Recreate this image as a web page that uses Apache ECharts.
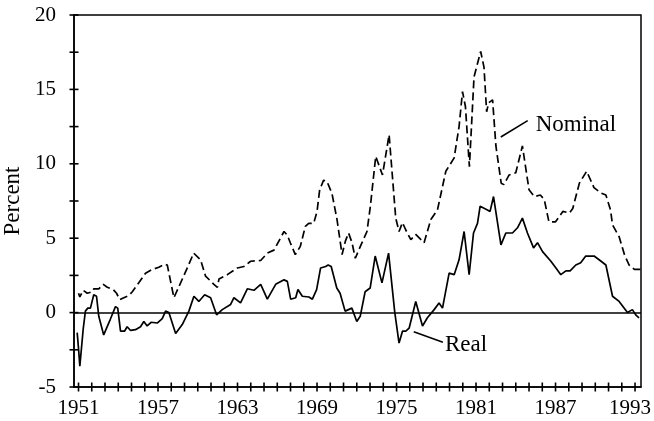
<!DOCTYPE html>
<html>
<head>
<meta charset="utf-8">
<script src="https://cdn.jsdelivr.net/npm/echarts@6/dist/echarts.min.js"></script>
<style>
  html, body { margin: 0; padding: 0; background: #fff; }
  #main { width: 654px; height: 421px; }
</style>
</head>
<body>
<div id="main"></div>
<script>
// interest rates as [year, percent]
const nominalRate = [
  [1951.0, 1.3], [1951.1, 1.05], [1951.2, 1.0], [1951.35, 1.5], [1951.66, 1.3], [1952.03, 1.4],
  [1952.16, 1.6], [1952.53, 1.6], [1952.87, 1.9], [1953.17, 1.7], [1953.62, 1.55], [1953.87, 1.3],
  [1954.12, 0.87], [1954.42, 1.0], [1954.8, 1.15], [1955.06, 1.4], [1955.55, 2.0], [1956.06, 2.65],
  [1956.57, 2.9], [1957.06, 3.05], [1957.5, 3.25], [1957.7, 3.2], [1958.2, 1.0], [1958.58, 1.75],
  [1959.21, 3.0], [1959.69, 4.0], [1960.21, 3.55], [1960.59, 2.45], [1961.22, 1.9], [1961.48, 1.7],
  [1961.6, 2.25], [1962.23, 2.55], [1962.99, 3.0], [1963.48, 3.1], [1963.99, 3.45], [1964.75, 3.5],
  [1965.25, 4.0], [1965.75, 4.2], [1966.51, 5.45], [1966.76, 5.2], [1966.99, 4.68], [1967.36, 3.9],
  [1967.74, 4.45], [1968.12, 5.8], [1968.37, 6.0], [1968.75, 6.0], [1969.0, 6.8], [1969.2, 8.25],
  [1969.5, 8.9], [1969.76, 8.8], [1970.13, 8.0], [1970.51, 6.25], [1970.89, 3.9], [1971.14, 4.8],
  [1971.38, 5.35], [1971.64, 4.7], [1971.89, 3.65], [1972.27, 4.45], [1972.77, 5.45], [1973.02, 7.1],
  [1973.43, 10.5], [1973.94, 9.25], [1974.44, 11.95], [1974.94, 6.35], [1975.19, 5.45],
  [1975.45, 6.05], [1975.7, 5.55], [1976.08, 4.9], [1976.45, 5.25], [1977.08, 4.7], [1977.59, 6.25],
  [1978.09, 6.9], [1978.72, 9.5], [1979.35, 10.4], [1979.72, 12.5], [1979.98, 14.85], [1980.2, 13.85],
  [1980.5, 9.8], [1980.85, 15.85], [1981.35, 17.55], [1981.6, 16.5], [1981.8, 13.5], [1981.95, 14.1],
  [1982.25, 14.3], [1982.5, 11.2], [1982.9, 8.7], [1983.1, 8.6], [1983.5, 9.25], [1984.0, 9.4],
  [1984.5, 11.2], [1985.0, 8.25], [1985.4, 7.8], [1985.85, 7.9], [1986.15, 7.6], [1986.5, 6.1],
  [1987.0, 6.1], [1987.55, 6.8], [1988.05, 6.7], [1988.3, 7.0], [1988.8, 8.7], [1989.35, 9.5],
  [1989.9, 8.4], [1990.4, 8.05], [1990.8, 7.9], [1991.15, 6.9], [1991.3, 5.9], [1991.8, 5.1],
  [1992.2, 3.9], [1992.55, 3.2], [1992.95, 2.9], [1993.45, 2.9]
];

const realRate = [
  [1950.9, -1.35], [1951.0, -2.4], [1951.1, -3.6], [1951.35, -1.15], [1951.52, 0.1], [1951.7, 0.3],
  [1951.9, 0.3], [1952.15, 1.2], [1952.36, 1.1], [1952.53, -0.25], [1952.9, -1.5], [1953.4, -0.45],
  [1953.79, 0.4], [1953.96, 0.3], [1954.17, -1.25], [1954.47, -1.25], [1954.67, -0.95], [1954.93, -1.2],
  [1955.3, -1.15], [1955.68, -0.95], [1955.93, -0.6], [1956.18, -0.9], [1956.48, -0.65], [1956.94, -0.7],
  [1957.32, -0.4], [1957.57, 0.1], [1957.82, 0], [1958.33, -1.4], [1958.83, -0.8], [1959.33, 0.1],
  [1959.71, 1.1], [1960.08, 0.75], [1960.52, 1.2], [1960.97, 1.0], [1961.42, -0.15], [1961.85, 0.2],
  [1962.48, 0.55], [1962.73, 1.0], [1963.23, 0.65], [1963.74, 1.6], [1964.24, 1.5], [1964.75, 1.9],
  [1965.25, 0.9], [1965.88, 1.9], [1966.51, 2.2], [1966.76, 2.1], [1967.01, 0.9], [1967.39, 1.0],
  [1967.56, 1.55], [1967.89, 1.1], [1968.39, 1.05], [1968.65, 0.9], [1968.97, 1.55], [1969.27, 3.0],
  [1969.65, 3.1], [1969.84, 3.2], [1970.07, 3.1], [1970.49, 1.65], [1970.74, 1.3], [1971.12, 0.1],
  [1971.63, 0.3], [1972.0, -0.6], [1972.26, -0.25], [1972.63, 1.4], [1973.01, 1.65], [1973.39, 3.8],
  [1973.9, 2.0], [1974.4, 4.0], [1974.87, 0], [1975.19, -2.05], [1975.45, -1.25], [1975.7, -1.25],
  [1975.95, -1.05], [1976.45, 0.75], [1976.96, -0.9], [1977.33, -0.35], [1977.84, 0.2], [1978.21, 0.65],
  [1978.47, 0.3], [1978.97, 2.65], [1979.35, 2.55], [1979.72, 3.55], [1980.1, 5.45], [1980.48, 2.55],
  [1980.81, 5.35], [1981.11, 6.0], [1981.31, 7.15], [1981.86, 6.9], [1982.06, 6.8], [1982.32, 7.8],
  [1982.88, 4.55], [1983.25, 5.35], [1983.75, 5.35], [1984.13, 5.7], [1984.5, 6.35], [1984.88, 5.35],
  [1985.34, 4.35], [1985.64, 4.7], [1986.02, 4.1], [1986.65, 3.45], [1987.03, 3.0], [1987.4, 2.55],
  [1987.78, 2.8], [1988.1, 2.8], [1988.53, 3.2], [1988.9, 3.35], [1989.28, 3.8], [1989.91, 3.8],
  [1990.29, 3.55], [1990.8, 3.2], [1991.3, 1.1], [1991.8, 0.75], [1992.43, 0], [1992.8, 0.2],
  [1993.05, -0.15], [1993.3, -0.35]
];

// ticks every year, labels every six years; y ticks every 2.5
const yearTicks = [];
for (let y = 1951; y <= 1993; y++) yearTicks.push(y);
const yearLabels = [1951, 1957, 1963, 1969, 1975, 1981, 1987, 1993];
const percentTicks = [-5, -2.5, 0, 2.5, 5, 7.5, 10, 12.5, 15, 17.5, 20];

// where the two callouts sit, in data units
const nominalNote = { text: 'Nominal', from: [1982.87, 11.8], to: [1984.9, 12.9], at: [1985.5, 12.6] };
const realNote = { text: 'Real', from: [1976.3, -1.28], to: [1978.5, -2.0], at: [1978.65, -2.2] };

const xMin = 1950.66, xMax = 1993.45;
const yMin = -5, yMax = 20;

const font = 'Liberation Serif';
const ink = '#000';

const chart = echarts.init(document.getElementById('main'), null, { renderer: 'canvas' });

// little "+" ticks that cross the axis lines, drawn as symbols on the axes
const tickSeries = (points, size) => ({
  type: 'scatter',
  data: points,
  symbol: 'rect',
  symbolSize: size,
  clip: false,
  silent: true,
  z: 5,
  itemStyle: { color: ink, opacity: 1 }
});

const option = {
  animation: false,
  backgroundColor: '#fff',
  grid: {
    left: 74, right: 13, top: 15, bottom: 34,
    outerBoundsMode: 'none',
    containLabel: false,
    show: true, borderColor: ink, borderWidth: 1.5, backgroundColor: 'transparent'
  },
  xAxis: {
    type: 'value', min: xMin, max: xMax,
    splitLine: { show: false },
    axisLine: { onZero: false, lineStyle: { color: ink, width: 1.5 } },
    axisTick: { show: false },
    axisLabel: {
      customValues: yearLabels, margin: 11,
      hideOverlap: false,
      formatter: (v) => v === 1993 ? '{last|' + v + '}' : String(v),
      rich: { last: { padding: [0, 10, 0, 0], fontFamily: font, fontSize: 21, color: ink } },
      fontFamily: font, fontSize: 21, color: ink
    }
  },
  yAxis: {
    type: 'value', min: yMin, max: yMax, interval: 5,
    splitLine: { show: false },
    name: 'Percent', nameLocation: 'middle', nameGap: 37, nameRotate: 90,
    nameTextStyle: { fontFamily: font, fontSize: 23, color: ink },
    axisLine: { onZero: false, lineStyle: { color: ink, width: 1.5 } },
    axisTick: { show: false },
    axisLabel: { margin: 18, fontFamily: font, fontSize: 21, color: ink }
  },
  series: [
    {
      name: 'Nominal',
      type: 'line',
      data: nominalRate,
      showSymbol: false,
      lineStyle: { color: ink, width: 1.7, type: [8, 4] },
      markPoint: {
        symbol: 'circle', symbolSize: 0, silent: true,
        label: { show: true, position: 'right', distance: 0, formatter: nominalNote.text, fontFamily: font, fontSize: 23, color: ink },
        data: [{ coord: nominalNote.at }]
      }
    },
    {
      name: 'Real',
      type: 'line',
      data: realRate,
      showSymbol: false,
      lineStyle: { color: ink, width: 1.7 },
      markLine: {
        symbol: 'none', silent: true, animation: false,
        label: { show: false },
        lineStyle: { color: ink, type: 'solid', width: 1.6 },
        data: [
          { yAxis: 0 },
          [{ coord: nominalNote.from }, { coord: nominalNote.to }],
          [{ coord: realNote.from }, { coord: realNote.to }]
        ]
      },
      markPoint: {
        symbol: 'circle', symbolSize: 0, silent: true,
        label: { show: true, position: 'right', distance: 0, formatter: realNote.text, fontFamily: font, fontSize: 23, color: ink },
        data: [{ coord: realNote.at }]
      }
    },
    tickSeries(yearTicks.map((y) => [y, yMin]), [1.6, 9]),
    tickSeries(percentTicks.map((p) => [xMin, p]), [9, 1.6])
  ]
};

chart.setOption(option);
</script>
</body>
</html>
